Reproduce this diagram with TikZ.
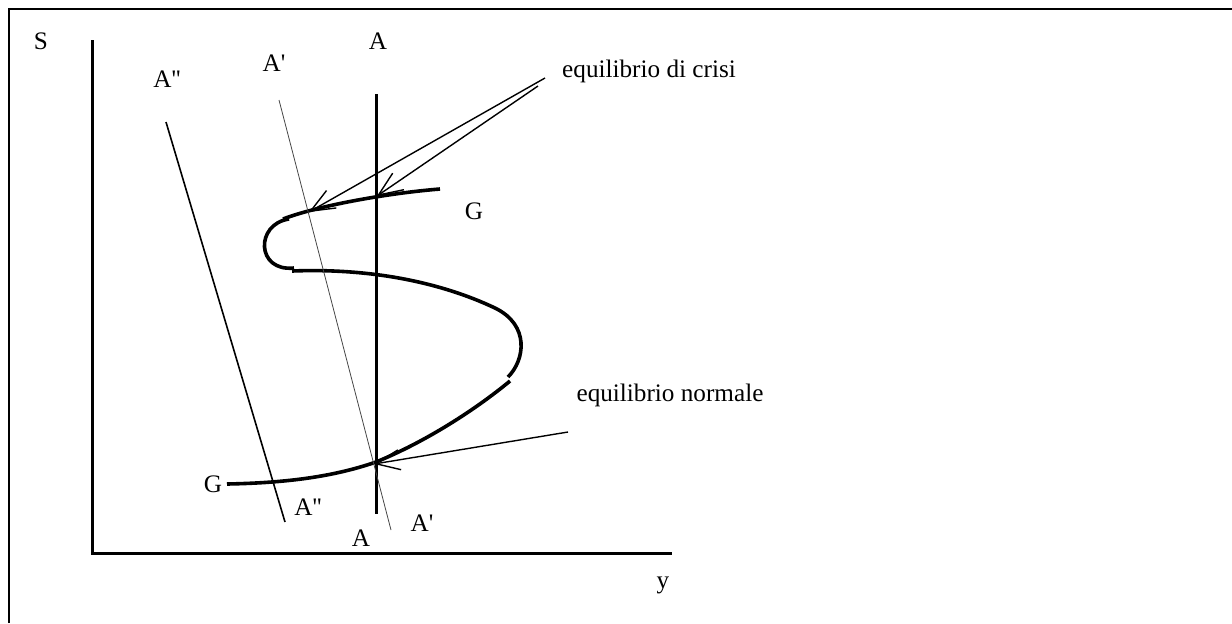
\documentclass[tikz,border=0pt]{standalone}
\usepackage{fontspec}
\setmainfont{Liberation Serif}
\usetikzlibrary{arrows.meta,positioning}
\definecolor{LineGray}{RGB}{70,70,70}

\begin{document}
\begin{tikzpicture}[x=0.5pt,y=-0.5pt,>={Straight Barb[length=12pt,width=10pt]},
    lbl/.style={font=\fontsize{12.6}{15}\selectfont,inner sep=0pt},
    axis/.style={line width=1.5pt},
    curveG/.style={line width=1.8pt}]
  \useasboundingbox (0,0) rectangle (1232,623);
  \draw[line width=1.1pt] (9,623)--(9,9)--(1232,9);
  \coordinate (O) at (92,553);
  \draw[axis] (92,40)--(O)--(672,553);
  \node[lbl] (S) at (41,41) {S};
  \node[lbl] (y) at (663,585) {y};
  % curva G
  \draw[curveG] (440,189) .. controls (390,193) and (320,205) .. (283,219);
  \draw[curveG] (289,219) .. controls (255,224) and (256,272) .. (294,268);
  \draw[curveG] (292,271) .. controls (370,268) and (440,282) .. (495,308)
    .. controls (530,325) and (525,360) .. (508,377);
  \draw[curveG] (510,381) .. controls (475,410) and (425,442) .. (376,462)
    .. controls (330,478) and (280,483) .. (227,484);
  \node[lbl] (Gtop) at (474,211) {G};
  \node[lbl] (Gbot) at (213,484) {G};
  % rette A, A', A''
  \coordinate (Aa) at (376,94);
  \coordinate (Ab) at (376,514);
  \draw[axis] (Aa)--(Ab);
  \coordinate (A1a) at (279,100);
  \coordinate (A1b) at (391,530);
  \draw[LineGray,line width=0.4pt] (A1a)--(A1b);
  \coordinate (A2a) at (166,122);
  \coordinate (A2b) at (285,522);
  \draw[line width=0.8pt] (A2a)--(A2b);
  \node[lbl] (Atop) at (378,41) {A};
  \node[lbl] (Abot) at (361,538) {A};
  \node[lbl] (A1top) at (274,63) {A\textquotesingle};
  \node[lbl] (A1bot) at (422,523) {A\textquotesingle};
  \node[lbl] (A2top) at (167,79) {A\textquotesingle\textquotesingle};
  \node[lbl] (A2bot) at (308,507) {A\textquotesingle\textquotesingle};
  % equilibri
  \node[lbl] (crisi) at (649,71) {equilibrio di crisi};
  \node[lbl] (normale) at (670,395) {equilibrio normale};
  \coordinate (c1) at (545,78);
  \coordinate (c2) at (538,86);
  \coordinate (n1) at (568,432);
  \coordinate (E1) at (309,212);
  \coordinate (E2) at (377,196);
  \coordinate (E3) at (374,464);
  \draw[->,line width=0.7pt] (c1)--(E1);
  \draw[->,line width=0.7pt] (c2)--(E2);
  \draw[->,line width=0.7pt] (n1)--(E3);
\end{tikzpicture}
\end{document}
